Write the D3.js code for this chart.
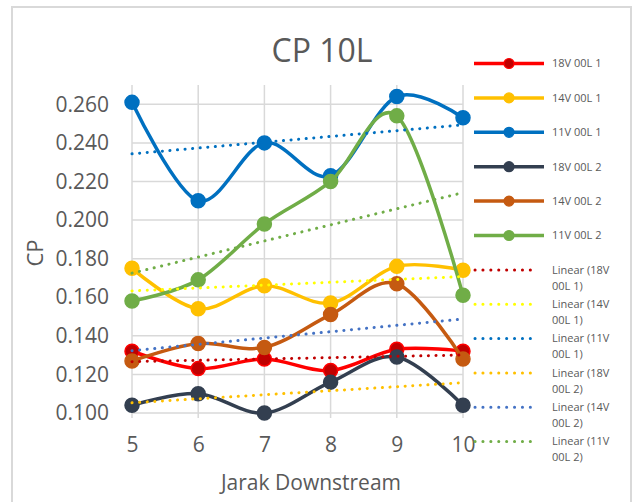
<!DOCTYPE html>
<html>
<head>
<meta charset="utf-8">
<script src="https://cdn.jsdelivr.net/npm/d3@7"></script>
<style>
  body { margin: 0; background: #fff; }
  text { font-family: "Open Sans", sans-serif; fill: #595959; }
</style>
</head>
<body>
<script>
var jarak = [5, 6, 7, 8, 9, 10];
var yTicks = [0.100, 0.120, 0.140, 0.160, 0.180, 0.200, 0.220, 0.240, 0.260];

var seriesNames = ["18V 00L 1", "14V 00L 1", "11V 00L 1", "18V 00L 2", "14V 00L 2", "11V 00L 2"];
var v18_1 = [0.132, 0.123, 0.128, 0.122, 0.133, 0.132];
var v14_1 = [0.175, 0.154, 0.166, 0.157, 0.176, 0.174];
var v11_1 = [0.261, 0.210, 0.240, 0.223, 0.264, 0.253];
var v18_2 = [0.104, 0.110, 0.100, 0.116, 0.129, 0.104];
var v14_2 = [0.127, 0.136, 0.134, 0.151, 0.167, 0.128];
var v11_2 = [0.158, 0.169, 0.198, 0.220, 0.254, 0.161];
var allValues = [v18_1, v14_1, v11_1, v18_2, v14_2, v11_2];

var lineColors = ["#FF0000", "#FFC000", "#0070C0", "#333F50", "#C55A11", "#70AD47"];
var markerFill = ["#C00000", "#FFC000", "#0070C0", "#333F50", "#C55A11", "#70AD47"];
var trendColors = ["#C00000", "#FFFF00", "#0070C0", "#FFC000", "#4472C4", "#70AD47"];

var svg = d3.select("body").append("svg").attr("width", 636).attr("height", 502);

// chart frame
svg.append("rect").attr("x", 12).attr("y", 7).attr("width", 619).attr("height", 500)
      .attr("fill", "none").attr("stroke", "#D9D9D9").attr("stroke-width", 2);

var x = d3.scaleLinear().domain([5, 10]).range([132, 463]);
var y = d3.scaleLinear().domain([0.1, 0.27]).range([413, 85]);

// gridlines
svg.selectAll("line.hgrid")
      .data(yTicks)
      .enter().append("line")
                .attr("class", "hgrid")
                .attr("x1", x(5)).attr("x2", x(10))
                .attr("y1", function(d){ return y(d); })
                .attr("y2", function(d){ return y(d); })
                .attr("stroke", "#D9D9D9").attr("stroke-width", 1.5);

svg.selectAll("line.vgrid")
      .data(jarak)
      .enter().append("line")
                .attr("class", "vgrid")
                .attr("x1", function(d){ return x(d); })
                .attr("x2", function(d){ return x(d); })
                .attr("y1", y(0.27)).attr("y2", y(0.1) + 5)
                .attr("stroke", "#D9D9D9").attr("stroke-width", 1.5);

// axes
var yAxis = svg.append("g").attr("transform", "translate(" + x(5) + ",0)")
      .call(d3.axisLeft(y).tickValues(yTicks).tickFormat(d3.format(".3f")).tickSize(0).tickPadding(23));
var xAxis = svg.append("g").attr("transform", "translate(0," + y(0.1) + ")")
      .call(d3.axisBottom(x).tickValues(jarak).tickFormat(d3.format("d")).tickSize(0).tickPadding(24));
[yAxis, xAxis].forEach(function(g){
  g.select(".domain").remove();
  g.selectAll("text").style("font-size", "21px").attr("fill", "#595959")
      .style("font-family", "'Open Sans', sans-serif");
});

// titles
svg.append("text").attr("x", 322).attr("y", 62).attr("text-anchor", "middle")
      .style("font-size", "32px").text("CP 10L");
svg.append("text").attr("x", 311).attr("y", 490).attr("text-anchor", "middle")
      .style("font-size", "21px").text("Jarak Downstream");
svg.append("text").attr("transform", "translate(43,253) rotate(-90)").attr("text-anchor", "middle")
      .style("font-size", "22px").text("CP");

// series lines
var line = d3.line()
      .x(function(d, i){ return x(jarak[i]); })
      .y(function(d){ return y(d); })
      .curve(d3.curveCatmullRom.alpha(0));

allValues.forEach(function(vals, s){
  svg.append("path").attr("d", line(vals))
        .attr("fill", "none").attr("stroke", lineColors[s]).attr("stroke-width", 3.5);
  svg.selectAll("circle.s" + s)
        .data(vals)
        .enter().append("circle")
                  .attr("class", "s" + s)
                  .attr("cx", function(d, i){ return x(jarak[i]); })
                  .attr("cy", function(d){ return y(d); })
                  .attr("r", 7)
                  .attr("fill", markerFill[s])
                  .attr("stroke", lineColors[s]).attr("stroke-width", 1.5);
});

// linear trendlines (least squares of each series)
function fit(vals){
  var mx = d3.mean(jarak), my = d3.mean(vals);
  var num = d3.sum(jarak, function(xv, i){ return (xv - mx) * (vals[i] - my); });
  var den = d3.sum(jarak, function(xv){ return (xv - mx) * (xv - mx); });
  var b = num / den;
  return function(xv){ return my + b * (xv - mx); };
}
allValues.forEach(function(vals, s){
  var f = fit(vals);
  svg.append("line")
        .attr("x1", x(5)).attr("y1", y(f(5)))
        .attr("x2", x(10)).attr("y2", y(f(10)))
        .attr("stroke", trendColors[s]).attr("stroke-width", 3)
        .attr("stroke-linecap", "round").attr("stroke-dasharray", "0.1 7.5");
});

// legend
var legendRows = d3.range(6);
var leg = svg.append("g");
legendRows.forEach(function(s){
  var ly = 63.5 + s * 34.4;
  leg.append("line").attr("x1", 474).attr("x2", 544).attr("y1", ly).attr("y2", ly)
        .attr("stroke", lineColors[s]).attr("stroke-width", 3.5);
  leg.append("circle").attr("cx", 509).attr("cy", ly).attr("r", 5)
        .attr("fill", markerFill[s]).attr("stroke", lineColors[s]).attr("stroke-width", 1.2);
  leg.append("text").attr("x", 552).attr("y", ly).attr("dy", "0.35em")
        .style("font-size", "11px").text(seriesNames[s]);
});
legendRows.forEach(function(s){
  var ly = 270 + s * 34.3;
  leg.append("line").attr("x1", 475).attr("x2", 538).attr("y1", ly).attr("y2", ly)
        .attr("stroke", trendColors[s]).attr("stroke-width", 3)
        .attr("stroke-linecap", "round").attr("stroke-dasharray", "0.1 7.8");
  var parts = seriesNames[s].split(" ");
  var t = leg.append("text").attr("x", 552).attr("y", ly).attr("dy", "0.35em").style("font-size", "11px");
  t.append("tspan").attr("x", 552).text("Linear (" + parts[0]);
  t.append("tspan").attr("x", 552).attr("dy", "1.45em").text(parts[1] + " " + parts[2] + ")");
});
</script>
</body>
</html>
